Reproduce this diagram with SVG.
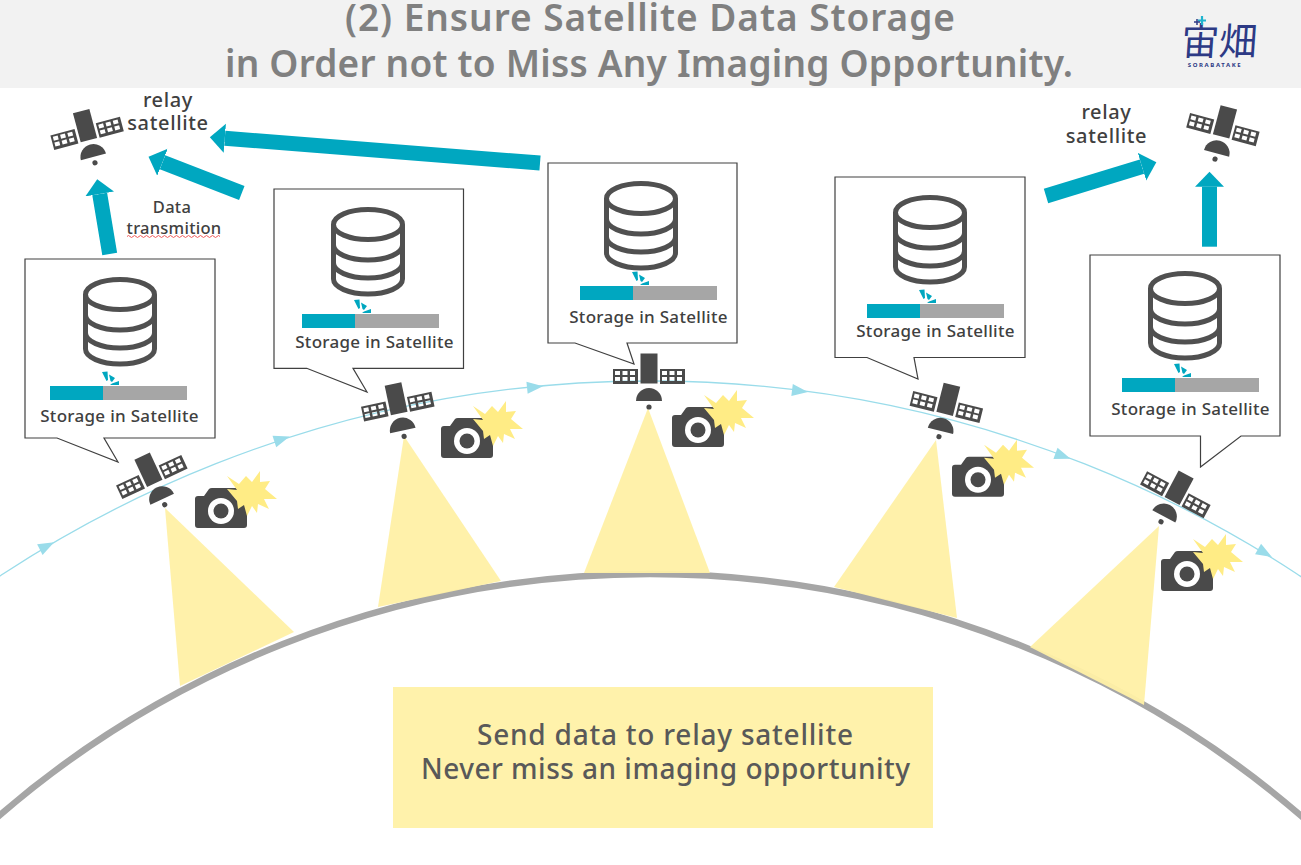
<svg xmlns="http://www.w3.org/2000/svg" xmlns:xlink="http://www.w3.org/1999/xlink" width="1301" height="865" viewBox="0 0 1301 865">
<style>
text{font-family:"Noto Sans","Liberation Sans",sans-serif;fill:#404040;text-anchor:middle}
.title{font-size:37px;font-weight:600;fill:#808080}
.lab{font-size:17px;font-weight:500;letter-spacing:.3px}
.rel{font-size:20px;font-weight:500;letter-spacing:.65px}
.dat{font-size:16.500px;font-weight:500;letter-spacing:.25px}
.big{font-size:28px;font-weight:500;fill:#595959}
.box{fill:#fff;stroke:#404040;stroke-width:1.2}
.beam{fill:#fff0a5;opacity:.95}
.arrow{stroke:#00a7c0;stroke-width:15;fill:none;marker-end:url(#head)}
.db{fill:none;stroke:#505050;stroke-width:5}
</style>
<defs>
<marker id="head" markerUnits="userSpaceOnUse" markerWidth="16" markerHeight="30" refX="0" refY="14.500" orient="auto"><path d="M0,0L15,14.500L0,29Z" fill="#00a7c0"/></marker>
<g id="sat">
<rect x="-8.500" y="-26.500" width="17" height="30" fill="#4a4a4a"/>
<path id="panel" fill="#4a4a4a" fill-rule="evenodd" d="M-36-11h25v15h-25zM-34-9h5v4h-5zM-26.500-9h5v4h-5zM-19-9h5v4h-5zM-34-3h5v4h-5zM-26.500-3h5v4h-5zM-19-3h5v4h-5z"/>
<use xlink:href="#panel" href="#panel" x="47"/>
<path d="M-13,21A13,13 0 0 1 13,21Z" fill="#4a4a4a"/>
<circle cy="27" r="2.600" fill="#4a4a4a"/>
</g>
<g id="cam">
<path d="M3,8H9L14,1Q15,0 17,0H42V8H49Q52,8 52,11V37Q52,40 49,40H3Q0,40 0,37V11Q0,8 3,8Z" fill="#4a4a4a"/>
<circle cx="26" cy="23" r="13" fill="#fff"/><circle cx="26" cy="23" r="7.500" fill="#4a4a4a"/>
<path transform="translate(56,5)" d="M-24-17L-12-9-5-17 1-11 9-22 9-11 19-12 14-4 26 6 13 6 18 16 7 11 6 20 1 13-4 23-7 12-13 16-14 8-24-4-14-3Z" fill="#ffec85"/>
</g>
<g id="dbi">
<ellipse cy="-27.500" rx="34.500" ry="15" class="db"/>
<path class="db" d="M-34.500-27.500V27A34.500,15 0 0 0 34.500,27V-27.500M-34.500-7A34.500,15 0 0 0 34.500-7M-34.500,11A34.500,15 0 0 0 34.500,11"/>
</g>
<g id="stor">
<rect width="53" height="14" fill="#00a7c0"/><rect x="53" width="84" height="14" fill="#a6a6a6"/>
<path transform="translate(53,0)" d="M-1-14L4.500-14.500 5-6 3.500-5ZM6-11.500L12-8 9-4 7.500-5ZM9-2.500L16-5 16-1 7-1Z" fill="#00a7c0"/>
</g>
<path id="tri" d="M-8-6L8,0-8,6Z" fill="#9adcea"/>
</defs>

<rect id="band" width="1301" height="88" fill="#f2f2f2"/>
<g id="title-text">
<text class="title" x="650" y="31" textLength="610" lengthAdjust="spacing">(2) Ensure Satellite Data Storage</text>
<text class="title" x="649" y="77" textLength="848" lengthAdjust="spacing">in Order not to Miss Any Imaging Opportunity.</text>
</g>
<g id="logo">
<text x="1218" y="55" transform="translate(4,0) skewX(-4)" style="font-family:'Noto Sans CJK JP',sans-serif;font-size:38px;font-weight:400;fill:#2d3a85">宙畑</text>
<text x="1215" y="67" style="font-size:6px;font-weight:700;fill:#2d3a85;letter-spacing:1.6px">SORABATAKE</text>
<path d="M1202,16v9M1198,20.500h8" stroke="#1fb4cf" stroke-width="2.200" fill="none"/>
<path d="M1197,19v6M1194,22h6" stroke="#2d3a85" stroke-width="1.500" fill="none"/>
</g>

<g id="connectors">
<circle cx="650" cy="1571" r="997" fill="none" stroke="#a6a6a6" stroke-width="6.500"/>
<circle cx="650" cy="1562" r="1181" fill="none" stroke="#9adcea" stroke-width="1.300"/>
<use xlink:href="#tri" href="#tri" transform="translate(47,546) rotate(-27)"/>
<use xlink:href="#tri" href="#tri" transform="translate(282,439) rotate(-18)"/>
<use xlink:href="#tri" href="#tri" transform="translate(535,387) rotate(-6)"/>
<use xlink:href="#tri" href="#tri" transform="translate(800,391) rotate(7)"/>
<use xlink:href="#tri" href="#tri" transform="translate(1063,456) rotate(20)"/>
<use xlink:href="#tri" href="#tri" transform="translate(1265,553) rotate(30)"/>
<path class="arrow" d="M109.700,254L99.700,194"/>
<path class="arrow" d="M241.800,193L162.500,162.200"/>
<path class="arrow" d="M540,163L224.800,138.300"/>
<path class="arrow" d="M1046,196L1142,166.700"/>
<path class="arrow" d="M1209.500,246.700V186.700"/>
</g>

<g id="beams">
<path class="beam" d="M165,508L294,632 180,686Z"/>
<path class="beam" d="M404,436L501,581 378,607Z"/>
<path class="beam" d="M648,408L710,573 584,573Z"/>
<path class="beam" d="M936,440L957,618 834,587Z"/>
<path class="beam" d="M1159,526L1144,705 1030,647Z"/>
</g>

<g id="node-1">
<path class="box" d="M25,259H215V438H104L118,462 57,438H25Z"/>
<use xlink:href="#dbi" href="#dbi" x="120" y="322"/><use xlink:href="#stor" href="#stor" x="50" y="386"/>
<text class="lab" x="119.500" y="422">Storage in Satellite</text>
<use xlink:href="#sat" href="#sat" transform="translate(153.300,480.200) rotate(-25)"/>
<use xlink:href="#cam" href="#cam" x="195" y="488"/>
</g>
<g id="node-2">
<path class="box" d="M274,189H463.500V368.300H353L367,392 306.700,368.300H274Z"/>
<use xlink:href="#dbi" href="#dbi" x="368" y="252"/><use xlink:href="#stor" href="#stor" x="302" y="314"/>
<text class="lab" x="374.500" y="348">Storage in Satellite</text>
<use xlink:href="#sat" href="#sat" transform="translate(398.500,410) rotate(-12)"/>
<use xlink:href="#cam" href="#cam" x="441" y="418"/>
</g>
<g id="node-3">
<path class="box" d="M548,163H737V343H627L634,364 575,343H548Z"/>
<use xlink:href="#dbi" href="#dbi" x="641" y="226"/><use xlink:href="#stor" href="#stor" x="580" y="286"/>
<text class="lab" x="648.500" y="323">Storage in Satellite</text>
<use xlink:href="#sat" href="#sat" transform="translate(649,380)"/>
<use xlink:href="#cam" href="#cam" x="672" y="407"/>
</g>
<g id="node-4">
<path class="box" d="M835,177H1025V357.500H914L918,379 867,357.500H835Z"/>
<use xlink:href="#dbi" href="#dbi" x="930" y="240"/><use xlink:href="#stor" href="#stor" x="867" y="304"/>
<text class="lab" x="935.500" y="337">Storage in Satellite</text>
<use xlink:href="#sat" href="#sat" transform="translate(945.500,410.500) rotate(14)"/>
<use xlink:href="#cam" href="#cam" x="952" y="456.700"/>
</g>
<g id="node-5">
<path class="box" d="M1090,255H1280V436H1241L1200.500,467V436H1090Z"/>
<use xlink:href="#dbi" href="#dbi" x="1185" y="316"/><use xlink:href="#stor" href="#stor" x="1122" y="378"/>
<text class="lab" x="1190.500" y="415">Storage in Satellite</text>
<use xlink:href="#sat" href="#sat" transform="translate(1173.700,497.900) rotate(28)"/>
<use xlink:href="#cam" href="#cam" x="1161" y="551"/>
</g>

<g id="relay-left">
<use xlink:href="#sat" href="#sat" transform="translate(88,136.700) rotate(-15)"/>
<text class="rel" x="168" y="106.500">relay</text><text class="rel" x="168" y="130">satellite</text>
</g>
<g id="relay-right">
<use xlink:href="#sat" href="#sat" transform="translate(1222,133) rotate(15)"/>
<text class="rel" x="1106.500" y="119">relay</text><text class="rel" x="1106.500" y="143">satellite</text>
</g>
<g id="data-label">
<text class="dat" x="172" y="213">Data</text>
<text class="dat" x="174" y="234">transmition</text>
<path d="M127,236.500q1.500-2 3 0t3 0 3 0 3 0 3 0 3 0 3 0 3 0 3 0 3 0 3 0 3 0 3 0 3 0 3 0 3 0 3 0 3 0 3 0 3 0 3 0 3 0 3 0 3 0 3 0 3 0 3 0 3 0 3 0 3 0 3 0" fill="none" stroke="#f05a5a" stroke-width="1"/>
</g>
<g id="summary">
<rect x="393" y="687" width="540" height="141" fill="#fff2ab"/>
<text class="big" x="665" y="745" textLength="376" lengthAdjust="spacing">Send data to relay satellite</text>
<text class="big" x="665.500" y="779" textLength="489" lengthAdjust="spacing">Never miss an imaging opportunity</text>
</g>
</svg>
